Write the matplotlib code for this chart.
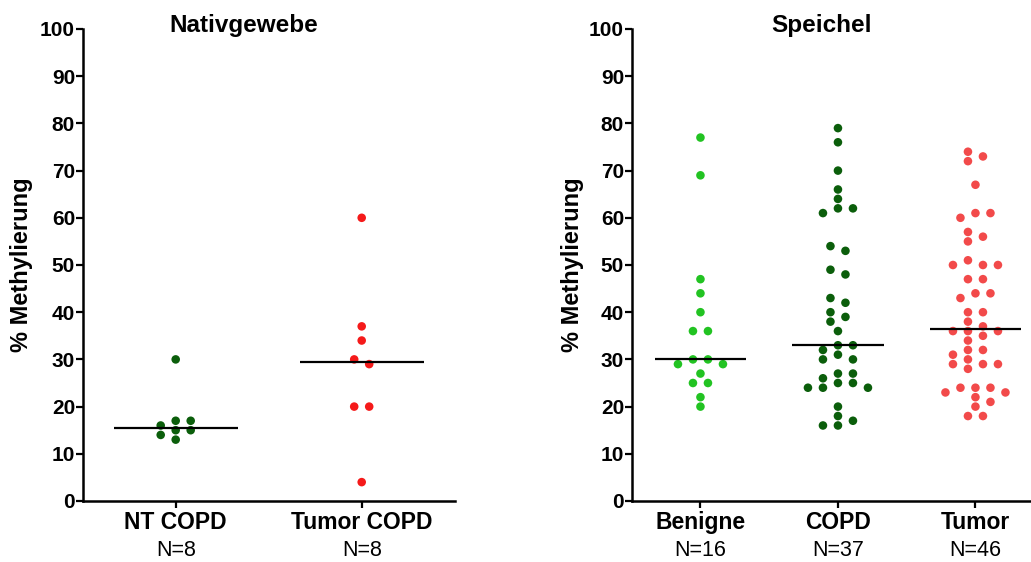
import numpy as np
import matplotlib.pyplot as plt

plt.rcParams['font.family'] = ['Liberation Sans', 'DejaVu Sans']

# values (% methylation per sample)
native_groups = ["NT COPD", "Tumor COPD"]
native_n = ["N=8", "N=8"]
nt_copd = [30, 17, 17, 16, 15, 15, 14, 13]
tumor_copd = [60, 37, 34, 30, 29, 20, 20, 4]

saliva_groups = ["Benigne", "COPD", "Tumor"]
saliva_n = ["N=16", "N=37", "N=46"]
benigne = [77, 69, 47, 44, 40, 36, 36, 30, 30, 29, 29, 27, 25, 25, 22, 20]
copd = [79, 76, 70, 66, 64, 62, 62, 61, 54, 53, 49, 48, 43, 42, 40, 39, 38, 36,
        33, 33, 32, 31, 30, 30, 27, 27, 26, 25, 25, 24, 24, 24, 20, 18, 17, 16, 16]
tumor = [74, 73, 72, 67, 61, 61, 60, 57, 56, 55, 51, 50, 50, 50, 47, 47, 44, 44,
         43, 40, 40, 38, 37, 36, 36, 36, 35, 34, 32, 32, 31, 30, 29, 29, 29, 28,
         24, 24, 24, 23, 23, 22, 21, 20, 18, 18]

native_colors = ["#0b5e0b", "#f51a1a"]
saliva_colors = ["#22c322", "#0b5e0b", "#f24a4a"]

FIG_W, FIG_H = 1031, 562
SLOT_PX = 15
NEAR = 1.7  # values closer than this may not share a column


def swarm_offsets(vals):
    # split into clusters of touching values, lay each out on a column grid
    # and centre it, similar to a Prism scatter
    vals = sorted(vals, reverse=True)
    clusters = [[vals[0]]]
    for v in vals[1:]:
        if clusters[-1][-1] - v < NEAR:
            clusters[-1].append(v)
        else:
            clusters.append([v])
    out = []
    for cl in clusters:
        placed = []
        for v in cl:
            for k in range(12):
                c = (k + 1) // 2 * (1 if k % 2 else -1)
                if all(abs(c - o) >= 1 for o, w in placed if abs(v - w) < NEAR):
                    break
            placed.append((c, v))
        offs = [o for o, w in placed]
        shift = (min(offs) + max(offs)) / 2
        out += [(o - shift, w) for o, w in placed]
    return out


def draw_panel(ax, title, groups, ns, data, colors, xmax, ylab_x, title_x):
    ax.set_xlim(-0.5, xmax)
    ax.set_ylim(0, 100)
    pos = ax.get_position()
    slot = SLOT_PX * (xmax + 0.5) / (pos.width * FIG_W)
    for i, (vals, col) in enumerate(zip(data, colors)):
        pts = swarm_offsets(vals)
        xs = [i + o * slot for o, v in pts]
        ys = [v for o, v in pts]
        ax.scatter(xs, ys, s=38, color=col, edgecolors='none', zorder=3, clip_on=False)
        ax.hlines(np.median(vals), i - 1 / 3, i + 1 / 3, color='black', lw=1.6, zorder=4)
    ax.set_xticks(range(len(groups)))
    ax.set_xticklabels(groups, fontsize=16.5, fontweight='bold')
    for i, n in enumerate(ns):
        ax.text(i, -0.117, n, transform=ax.get_xaxis_transform(), ha='center', va='baseline',
                fontsize=15.5)
    ax.set_yticks(range(0, 101, 10))
    ax.tick_params(axis='y', labelsize=15, width=1.6, length=5, pad=0.5)
    ax.tick_params(axis='x', width=1.6, length=5, pad=2)
    for lbl in ax.get_yticklabels():
        lbl.set_fontweight('bold')
    for s in ['top', 'right']:
        ax.spines[s].set_visible(False)
    for s in ['left', 'bottom']:
        ax.spines[s].set_linewidth(1.8)
    fig.text(title_x / FIG_W, pos.y1 - 3 / FIG_H, title, ha='center', va='baseline',
             fontsize=17.5, fontweight='bold')
    fig.text(ylab_x / FIG_W, (pos.y0 + pos.height / 2), "% Methylierung", rotation=90,
             ha='center', va='center', fontsize=17, fontweight='bold')


fig = plt.figure(figsize=(FIG_W / 100, FIG_H / 100), dpi=100)
ax1 = fig.add_axes([82.7 / FIG_W, 61 / FIG_H, 372 / FIG_W, 472 / FIG_H])
ax2 = fig.add_axes([631.7 / FIG_W, 61 / FIG_H, 399.3 / FIG_W, 472 / FIG_H])

draw_panel(ax1, "Nativgewebe", native_groups, native_n, [nt_copd, tumor_copd], native_colors,
           1.5, 22, 244)
draw_panel(ax2, "Speichel", saliva_groups, saliva_n, [benigne, copd, tumor], saliva_colors,
           2.404, 572, 822)

fig.savefig("out.png", dpi=100)
